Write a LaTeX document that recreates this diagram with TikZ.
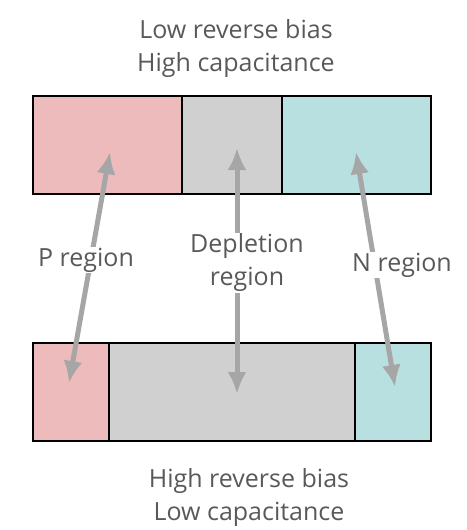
\documentclass[tikz,border=0pt]{standalone}
\usepackage{fontspec}
\setmainfont{Open Sans}
\usetikzlibrary{arrows.meta}
\definecolor{pcol}{HTML}{EEBBBD}
\definecolor{dcol}{HTML}{D0D0D0}
\definecolor{ncol}{HTML}{B9E0E0}
\definecolor{txtcol}{HTML}{595959}
\definecolor{arrcol}{HTML}{A6A6A6}
\begin{document}
\begin{tikzpicture}[x=1pt, y=-1pt,
    region/.style={draw=black, line width=1.8pt, anchor=north west, minimum height=98pt, inner sep=0pt},
    lbl/.style={text=txtcol, font=\fontsize{25}{33}\selectfont, align=center},
    tag/.style={lbl, fill=white, inner sep=1pt},
    bothway/.style={arrcol, line width=5pt, {Latex[length=22pt,width=19pt]}-{Latex[length=22pt,width=19pt]}}]
    \useasboundingbox (0,0) rectangle (466,530);

    % Top junction
    \node[lbl] (toptxt) at (236,49) {Low reverse bias\\High capacitance};
    \node[region, fill=pcol, minimum width=149pt] (ptop) at (32,95) {};
    \node[region, fill=dcol, minimum width=100pt] (dtop) at (181,95) {};
    \node[region, fill=ncol, minimum width=149pt] (ntop) at (281,95) {};

    % Bottom junction
    \node[region, fill=pcol, minimum width=76pt] (pbot) at (32,342) {};
    \node[region, fill=dcol, minimum width=246pt] (dbot) at (108,342) {};
    \node[region, fill=ncol, minimum width=76pt] (nbot) at (354,342) {};
    \node[lbl] (bottxt) at (249,497) {High reverse bias\\Low capacitance};

    % Arrow ends
    \coordinate (pa) at (110,152);
    \coordinate (pb) at (69,383);
    \coordinate (da) at (237,148);
    \coordinate (db) at (237,394);
    \coordinate (na) at (356,152);
    \coordinate (nb) at (395,387);

    % Arrows
    \foreach \r in {p,d,n}
        \draw[bothway] (\r a) -- (\r b);

    % Region labels
    \node[tag] (plbl) at (86,260) {P region};
    \node[tag] (dlbl) at (247,263) {Depletion\\region};
    \node[tag] (nlbl) at (402,265) {N region};
\end{tikzpicture}
\end{document}
